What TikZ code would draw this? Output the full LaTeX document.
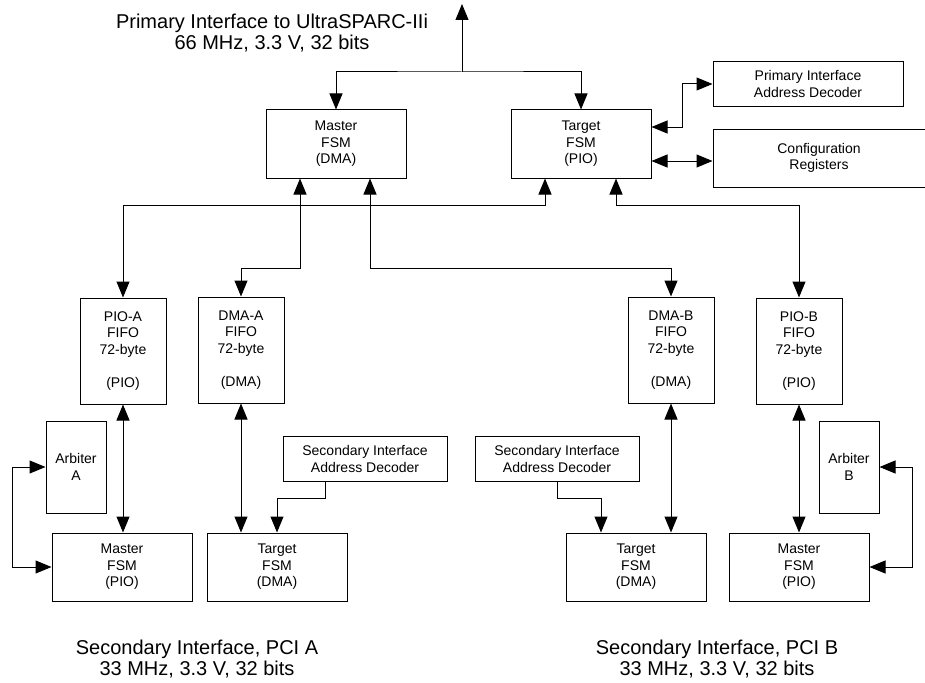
\documentclass[tikz,border=0pt]{standalone}
\usepackage{fontspec}
\setmainfont{Liberation Sans}
\usetikzlibrary{arrows.meta, positioning}
\tikzset{
    >={Triangle[length=16pt,width=13pt]}, % filled arrow heads
    every node/.style={font=\fontsize{14}{16.5}\selectfont}, % text inside the boxes
    block/.style={draw, line width=1pt, align=center, inner sep=0pt}, % plain box
    fsm/.style={block, minimum width=140pt, minimum height=68pt},
    fifo/.style={block, minimum width=86pt, minimum height=106pt},
    arbiter/.style={block, minimum width=60pt, minimum height=92pt},
    decoder/.style={block, minimum width=164pt, minimum height=45pt},
    bus/.style={line width=1pt, <->}, % two-way connections
    caption/.style={align=center, font=\fontsize{20}{21.5}\selectfont},
}

\begin{document}
\begin{tikzpicture}[x=1pt, y=-1pt]
    \useasboundingbox (0,0) rectangle (925,682);

    % primary side
    \node[caption] (primary) at (272,33) {Primary Interface to UltraSPARC-IIi\\66 MHz, 3.3 V, 32 bits};
    \coordinate (up) at (462,4);
    \coordinate (split) at (462,72);
    \node[fsm] (MasterTop) at (336,144) {Master\\FSM\\(DMA)};
    \node[fsm] (TargetTop) at (581,144) {Target\\FSM\\(PIO)};
    \node[block, minimum width=190pt, minimum height=45pt] (PIDec) at (808,84) {Primary Interface\\Address Decoder};
    \node[block, minimum width=212pt, minimum height=58pt] (Config) at (819,158) {Configuration\\Registers};

    % FIFOs
    \node[fifo] (PIOA) at (123,351) {PIO-A\\FIFO\\72-byte\\[16.5pt](PIO)};
    \node[fifo] (DMAA) at (241,350) {DMA-A\\FIFO\\72-byte\\[16.5pt](DMA)};
    \node[fifo] (DMAB) at (671,350) {DMA-B\\FIFO\\72-byte\\[16.5pt](DMA)};
    \node[fifo] (PIOB) at (799,351) {PIO-B\\FIFO\\72-byte\\[16.5pt](PIO)};

    % secondary side A
    \node[arbiter] (ArbA) at (76,467) {Arbiter\\A};
    \node[fsm] (MasterA) at (122,567) {Master\\FSM\\(PIO)};
    \node[fsm] (TargetA) [right=14pt of MasterA] {Target\\FSM\\(DMA)};
    \node[decoder] (DecA) at (365,459) {Secondary Interface\\Address Decoder};
    \node[caption] (pciA) at (197,659) {Secondary Interface, PCI A\\33 MHz, 3.3 V, 32 bits};

    % secondary side B
    \node[arbiter] (ArbB) at (849,467) {Arbiter\\B};
    \node[fsm] (MasterB) at (799,567) {Master\\FSM\\(PIO)};
    \node[fsm] (TargetB) [left=22pt of MasterB] {Target\\FSM\\(DMA)};
    \node[decoder] (DecB) at (557,459) {Secondary Interface\\Address Decoder};
    \node[caption] (pciB) at (717,659) {Secondary Interface, PCI B\\33 MHz, 3.3 V, 32 bits};

    % top bus
    \draw[line width=1pt, ->] (split) -- (up);
    \draw[bus] (MasterTop.north) |- (split) -| (TargetTop.north);
    \draw[bus] (TargetTop.east |- 0,127) -- (682,127) |- (PIDec.west);
    \draw[bus] (TargetTop.east |- 0,161) -- (Config.west |- 0,161);

    % FIFO links
    \draw[bus] (PIOA.north) -- ([yshift=92pt]PIOA.north) -| ([xshift=-36pt]TargetTop.south);
    \draw[bus] (PIOB.north) -- ([yshift=92pt]PIOB.north) -| ([xshift=35pt]TargetTop.south);
    \draw[bus] (DMAA.north) -- ([yshift=28pt]DMAA.north) -| ([xshift=-36pt]MasterTop.south);
    \draw[bus] (DMAB.north) -- ([yshift=28pt]DMAB.north) -| ([xshift=34pt]MasterTop.south);

    % secondary links
    \draw[bus] (PIOA.south) -- (PIOA.south |- MasterA.north);
    \draw[bus] (DMAA.south) -- (DMAA.south |- TargetA.north);
    \draw[bus] (DMAB.south) -- (DMAB.south |- TargetB.north);
    \draw[bus] (PIOB.south) -- (PIOB.south |- MasterB.north);
    \draw[line width=1pt, ->] ([xshift=-40pt]DecA.south) -- ++(0,16) -| (TargetA.north);
    \draw[line width=1pt, ->] (DecB.south) -- ++(0,16) -| ([xshift=-35pt]TargetB.north);
    \draw[bus] (ArbA.west) -- ++(-33,0) |- (MasterA.west);
    \draw[bus] (ArbB.east) -- ++(33,0) |- (MasterB.east);
\end{tikzpicture}
\end{document}
